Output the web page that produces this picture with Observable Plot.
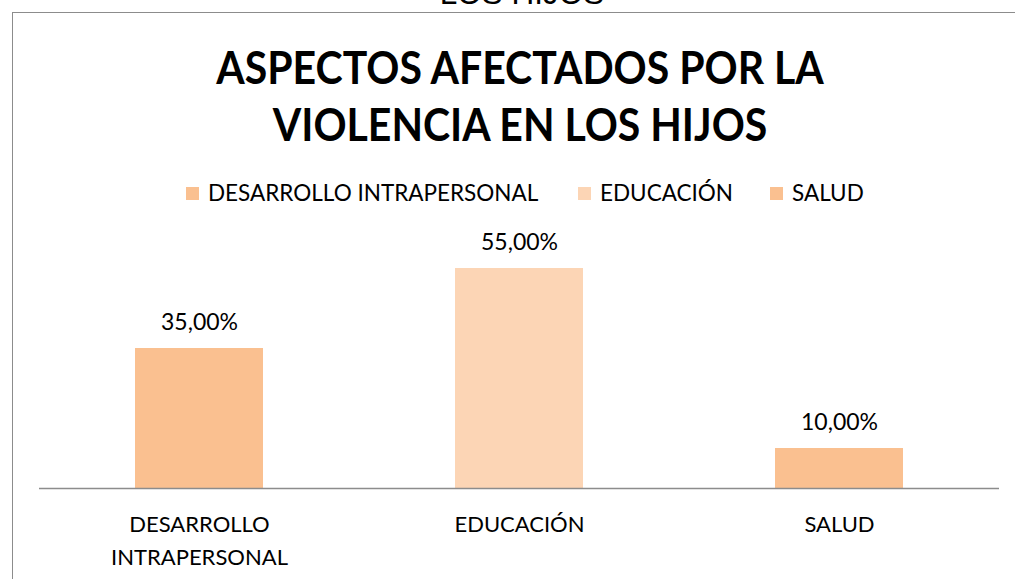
<!DOCTYPE html>
<html>
<head>
<meta charset="utf-8">
<script src="https://cdn.jsdelivr.net/npm/d3@7"></script>
<script src="https://cdn.jsdelivr.net/npm/@observablehq/plot@0.6"></script>
<style>
  html, body { margin: 0; padding: 0; background: #fff; overflow: hidden; }
  body { width: 1015px; height: 579px; position: relative; font-family: Lato, "Open Sans", sans-serif; }
  #frame { position: absolute; left: 12px; top: 12px; width: 1100px; height: 600px; border: 1.5px solid #8c8c8c; box-sizing: border-box; }
  #top { position: absolute; left: 322px; width: 400px; top: -22px; text-align: center; font-family: "Liberation Sans", Arial, sans-serif; font-size: 31.5px; line-height: 1; color: #000; }
  #title { position: absolute; left: 0; top: 38px; width: 1040px; text-align: center; font-family: Lato, sans-serif; font-weight: 700; font-size: 41px; line-height: 51px; color: #000; transform: scaleY(1.12); transform-origin: 50% 0; }
  .item { position: absolute; top: 178px; display: flex; align-items: center; font-size: 22.5px; line-height: 30px; color: #000; white-space: nowrap; }
  .sw { display: inline-block; width: 13px; height: 13px; margin-right: 9px; }
  #chart { position: absolute; left: 0; top: 0; }
</style>
</head>
<body>
<div id="top">LOS HIJOS</div>
<div id="frame"></div>
<div id="chart"></div>
<div id="title">ASPECTOS AFECTADOS POR LA<br>VIOLENCIA EN LOS HIJOS</div>
<div id="legend"></div>
<script>
const categories = ["DESARROLLO INTRAPERSONAL", "EDUCACIÓN", "SALUD"];
const values = [35, 55, 10];
const axisLabels = ["DESARROLLO\nINTRAPERSONAL", "EDUCACIÓN", "SALUD"];
const colors = ["#FAC090", "#FCD5B5", "#FAC090"];
const valueLabels = ["35,00%", "55,00%", "10,00%"];
const legendLeft = [186, 578, 770];

const data = categories.map((c, i) => ({cat: c, value: values[i], label: valueLabels[i], color: colors[i]}));

const plot = Plot.plot({
  width: 1015,
  height: 579,
  marginLeft: 39,
  marginRight: 16,
  marginTop: 248,
  marginBottom: 91,
  style: {fontFamily: "Lato, 'Open Sans', sans-serif", fontSize: "22px", color: "#000", background: "transparent"},
  x: {domain: categories, paddingInner: 0.6, paddingOuter: 0.3},
  y: {domain: [0, 60], axis: null},
  marks: [
    Plot.barY(data, {x: "cat", y: "value", fill: "color"}),
    Plot.ruleY([0], {stroke: "#8c8c8c", strokeWidth: 1.5}),
    Plot.text(data, {x: "cat", y: "value", text: "label", dy: -26, fill: "#000", fontSize: 23}),
    Plot.axisX({
      tickSize: 0,
      tickPadding: 0,
      dy: 20,
      label: null,
      fontSize: 22,
      lineHeight: 1.5,
      lineAnchor: "top",
      tickFormat: (d) => axisLabels[categories.indexOf(d)]
    })
  ]
});
document.getElementById("chart").appendChild(plot);

const legend = document.getElementById("legend");
categories.forEach((c, i) => {
  const item = document.createElement("div");
  item.className = "item";
  item.style.left = legendLeft[i] + "px";
  const sw = document.createElement("span");
  sw.className = "sw";
  sw.style.background = colors[i];
  item.appendChild(sw);
  item.appendChild(document.createTextNode(c));
  legend.appendChild(item);
});
</script>
</body>
</html>
